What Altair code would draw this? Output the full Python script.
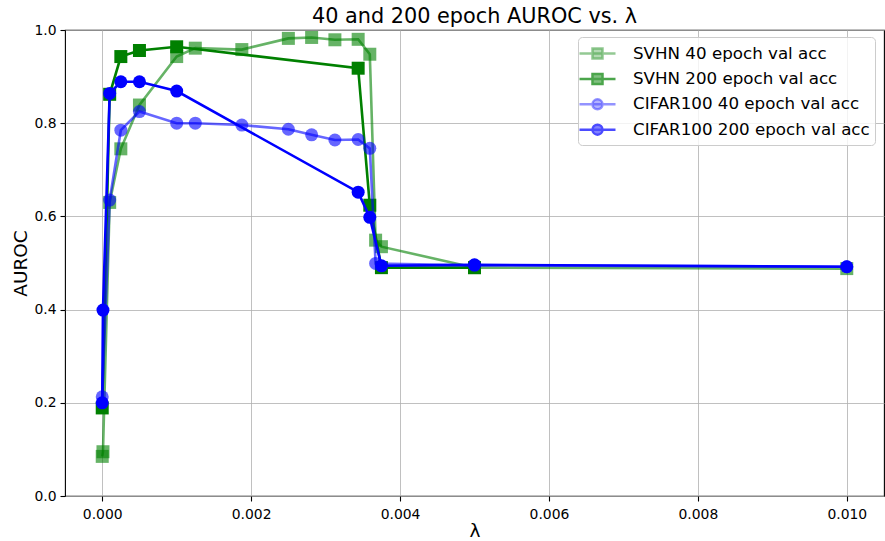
import altair as alt
import pandas as pd

series_names = ["SVHN 40 epoch val acc", "SVHN 200 epoch val acc",
                "CIFAR100 40 epoch val acc", "CIFAR100 200 epoch val acc"]
series_colors = ["#008000", "#008000", "#0000ff", "#0000ff"]
legend_colors = ["rgba(0,128,0,0.6)", "#008000", "rgba(0,0,255,0.6)", "#0000ff"]
series_alpha = [0.6, 1.0, 0.6, 1.0]
series_markers = ["square", "square", "circle", "circle"]

svhn40_x = [0, 0.00001, 0.0001, 0.00025, 0.0005, 0.001, 0.00125, 0.001875, 0.0025,
            0.0028125, 0.003125, 0.0034375, 0.00359375, 0.003671875, 0.00375, 0.005, 0.01]
svhn40_y = [0.085, 0.095, 0.630, 0.745, 0.839, 0.943, 0.961, 0.958, 0.982,
            0.984, 0.979, 0.980, 0.948, 0.549, 0.535, 0.490, 0.488]

svhn200_x = [0, 0.0001, 0.00025, 0.0005, 0.001, 0.0034375, 0.00359375, 0.00375, 0.005]
svhn200_y = [0.189, 0.862, 0.943, 0.956, 0.964, 0.918, 0.624, 0.490, 0.490]

cifar40_x = [0, 0.0001, 0.00025, 0.0005, 0.001, 0.00125, 0.001875, 0.0025,
             0.0028125, 0.003125, 0.0034375, 0.00359375, 0.003671875, 0.005, 0.01]
cifar40_y = [0.213, 0.635, 0.785, 0.825, 0.800, 0.800, 0.796, 0.787,
             0.775, 0.764, 0.765, 0.746, 0.499, 0.495, 0.492]

cifar200_x = [0, 0.00001, 0.0001, 0.00025, 0.0005, 0.001, 0.0034375, 0.00359375, 0.00375, 0.005, 0.01]
cifar200_y = [0.200, 0.399, 0.864, 0.889, 0.889, 0.869, 0.652, 0.598, 0.494, 0.496, 0.492]

x_ticks = [0.0, 0.002, 0.004, 0.006, 0.008, 0.010]
y_ticks = [0.0, 0.2, 0.4, 0.6, 0.8, 1.0]

# legend symbols: line segment + marker
legend_paths = [
    "M-1.8,0H1.8M-0.5,-0.5H0.5V0.5H-0.5Z",
    "M-1.8,0H1.8M-0.5,-0.5H0.5V0.5H-0.5Z",
    "M-1.8,0H1.8M0.5,0A0.5,0.5 0 1,1 -0.5,0A0.5,0.5 0 1,1 0.5,0Z",
    "M-1.8,0H1.8M0.5,0A0.5,0.5 0 1,1 -0.5,0A0.5,0.5 0 1,1 0.5,0Z",
]

all_x = [svhn40_x, svhn200_x, cifar40_x, cifar200_x]
all_y = [svhn40_y, svhn200_y, cifar40_y, cifar200_y]

rows = []
for name, xs, ys in zip(series_names, all_x, all_y):
    for i, (xv, yv) in enumerate(zip(xs, ys)):
        rows.append({"lam": xv, "auroc": yv, "series": name, "idx": i})
df = pd.DataFrame(rows)

FONT = "DejaVu Sans"

x_enc = alt.X("lam:Q", scale=alt.Scale(domain=[-0.0005, 0.0105], nice=False, zero=False),
              axis=alt.Axis(values=x_ticks, format=".3f", title="λ", labelPadding=6,
                            titleX=409.5, titleY=40, titleAlign="center",
                            titleBaseline="alphabetic"))
y_enc = alt.Y("auroc:Q", scale=alt.Scale(domain=[0, 1], nice=False),
              axis=alt.Axis(values=y_ticks, format=".1f", title="AUROC",
                            titleX=-45, titleY=233, titleAngle=270,
                            titleAlign="center", titleBaseline="middle"))

layers = []
for name, col, a, mk in zip(series_names, series_colors, series_alpha, series_markers):
    base = alt.Chart(df).transform_filter(alt.datum.series == name)
    layers.append(base.mark_line(color=col, opacity=a, strokeWidth=2.6).encode(
        x=x_enc, y=y_enc, order="idx:Q"))
    layers.append(base.mark_point(shape=mk, filled=True, size=169, color=col, opacity=a,
                                  strokeWidth=0).encode(x=x_enc, y=y_enc))

legend_layer = alt.Chart(df).transform_filter("datum.auroc < -1").mark_point(
    size=400, strokeWidth=2.5).encode(
    x=x_enc, y=y_enc,
    fill=alt.Fill("series:N", scale=alt.Scale(domain=series_names, range=legend_colors),
                  legend=alt.Legend(title=None, orient="none", legendX=513, legendY=7,
                                    labelFont=FONT, labelFontSize=16.7, labelColor="black",
                                    symbolSize=400, symbolStrokeWidth=2.5,
                                    strokeColor="#cccccc", fillColor="rgba(255,255,255,0.8)",
                                    cornerRadius=4, padding=5, rowPadding=3.4,
                                    symbolOffset=3, labelOffset=24, labelLimit=400)),
    stroke=alt.Stroke("series:N", scale=alt.Scale(domain=series_names, range=legend_colors)),
    shape=alt.Shape("series:N", scale=alt.Scale(domain=series_names, range=legend_paths)),
)

chart = alt.layer(*layers, legend_layer).properties(
    width=819, height=466,
    background="white",
    autosize=alt.AutoSizeParams(type="none"),
    padding={"left": 65, "top": 30, "right": 1, "bottom": 45},
    title=alt.TitleParams("40 and 200 epoch AUROC vs. λ", font=FONT, fontSize=20.8,
                          fontWeight="normal", color="black", offset=4, dy=9,
                          anchor="middle"),
).configure_view(stroke="black", strokeWidth=1.1).configure_axis(
    grid=True, gridColor="#b0b0b0", gridWidth=0.8, domain=False,
    tickColor="black", tickSize=5, tickWidth=1.1, labelPadding=4,
    labelFont=FONT, labelFontSize=13.9, labelColor="black",
    titleFont=FONT, titleFontSize=18.5, titleFontWeight="normal", titleColor="black",
)

chart.save("out.html", embed_options={"renderer": "svg", "actions": False})
